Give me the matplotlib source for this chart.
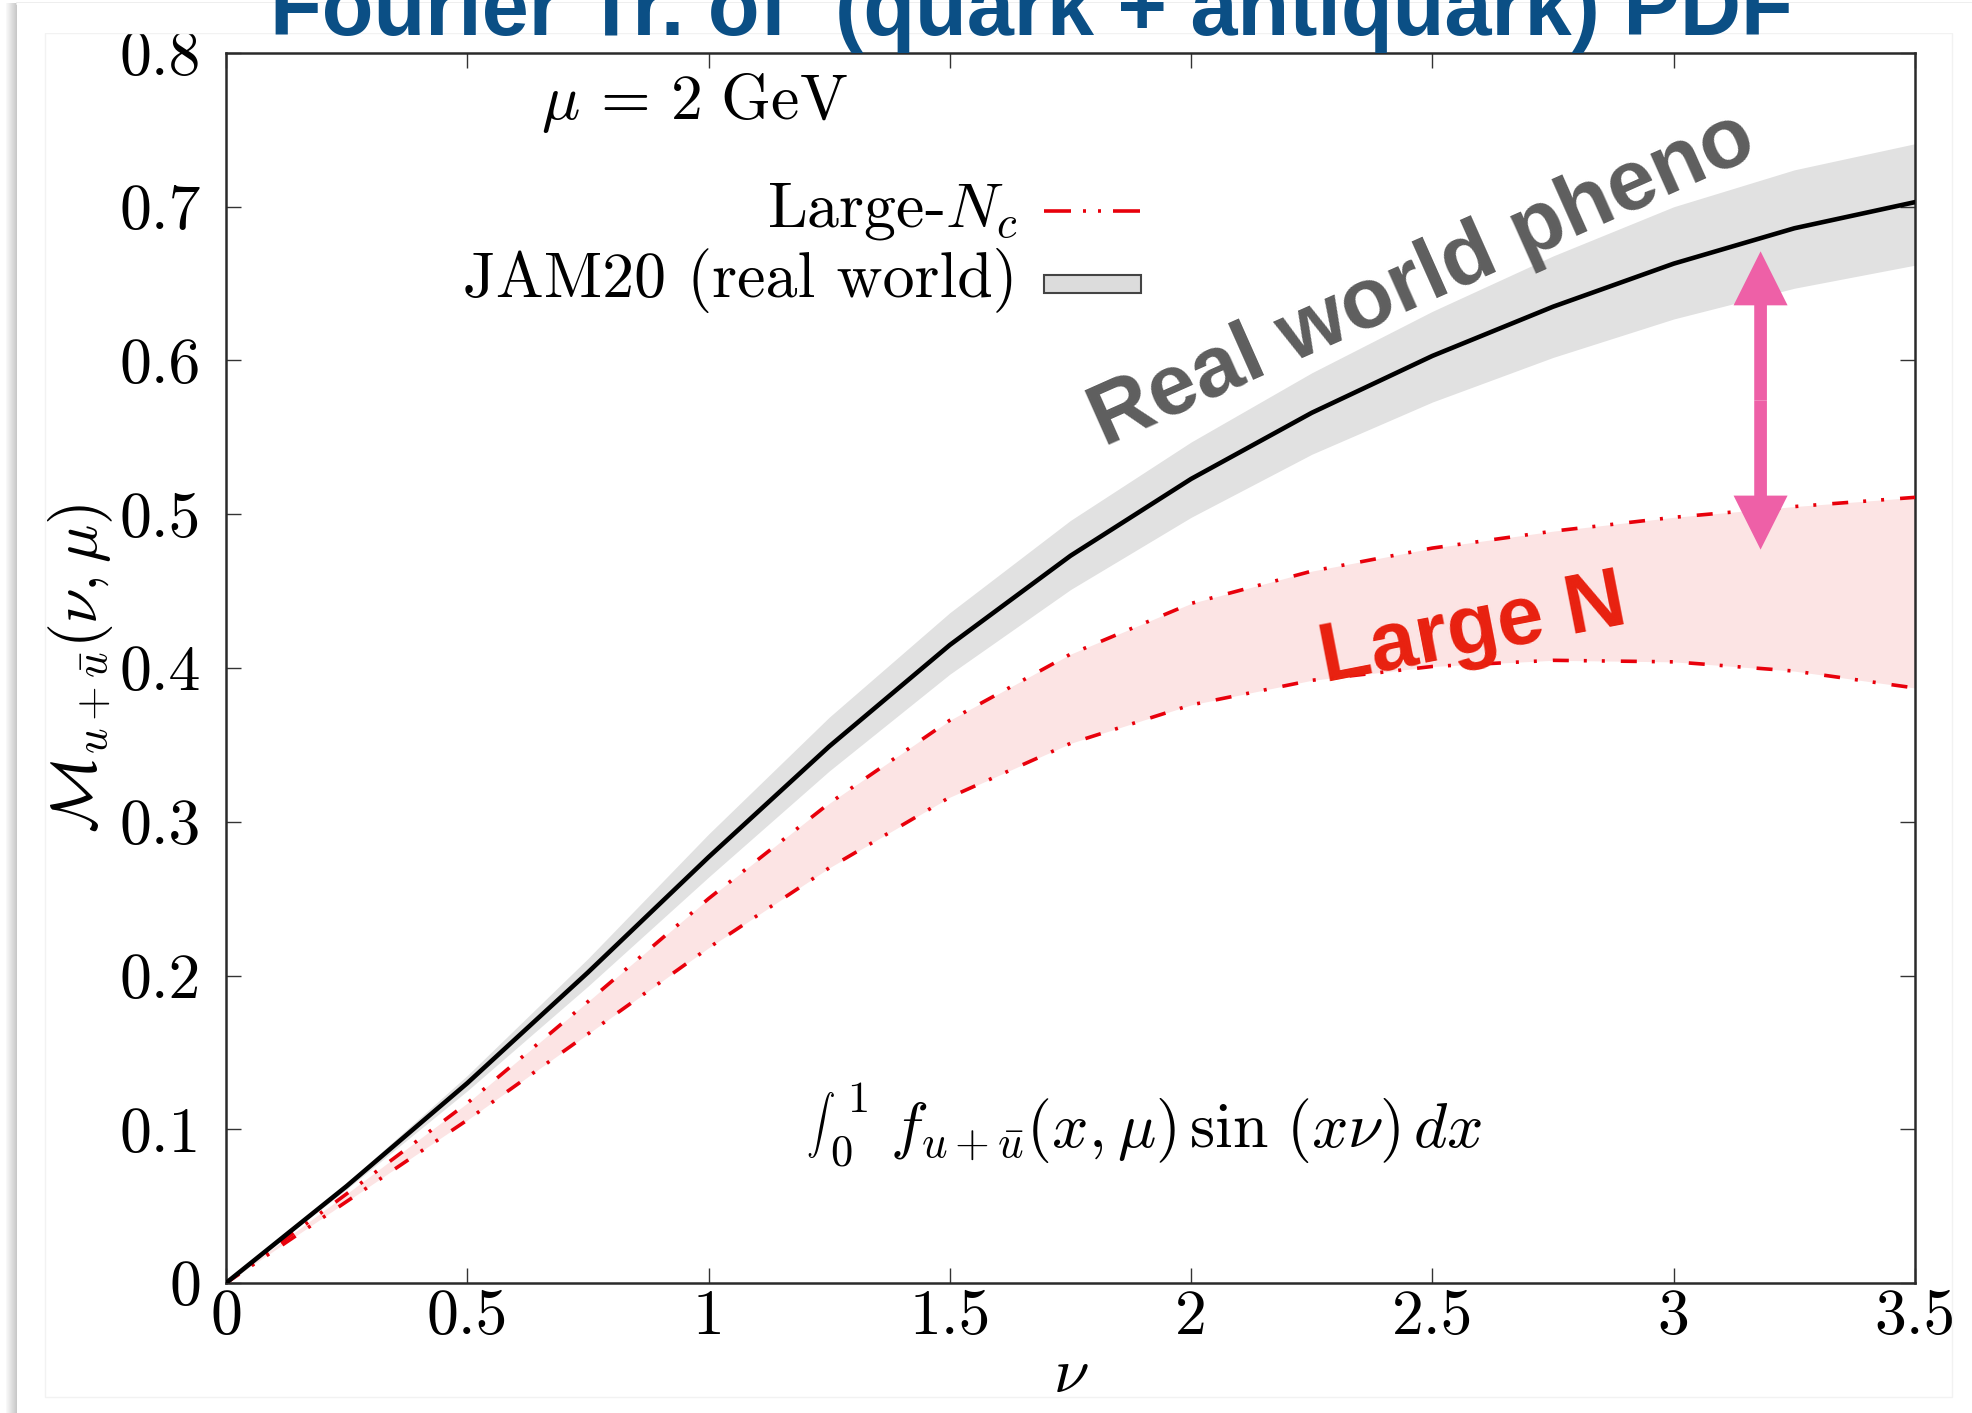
"""Sine Fourier transform of the u + ubar PDF: large-Nc band vs JAM20 fit."""
import matplotlib

matplotlib.use("Agg")
import matplotlib.pyplot as plt
import numpy as np
from matplotlib.lines import Line2D
from matplotlib.patches import FancyArrow, Rectangle

FIG_W, FIG_H, DPI = 19.72, 14.13, 100
PX = 72.0 / DPI  # points per output pixel

plt.rcParams["font.family"] = ["cmr10", "DejaVu Serif"]
plt.rcParams["mathtext.fontset"] = "cm"
plt.rcParams["axes.formatter.use_mathtext"] = True
plt.rcParams["lines.scale_dashes"] = False

# Ioffe time nu and the transformed distributions read at each nu
nu = [0.0, 0.25, 0.5, 0.75, 1.0, 1.25, 1.5, 1.75, 2.0, 2.25, 2.5, 2.75, 3.0, 3.25, 3.5]
jam_central = [0.0, 0.063, 0.130, 0.202, 0.277, 0.349, 0.415, 0.473, 0.523, 0.566,
               0.603, 0.635, 0.663, 0.686, 0.703]
jam_upper = [0.0, 0.065, 0.135, 0.211, 0.292, 0.368, 0.436, 0.496, 0.547, 0.592,
             0.632, 0.668, 0.700, 0.724, 0.741]
jam_lower = [0.0, 0.061, 0.125, 0.193, 0.264, 0.333, 0.396, 0.451, 0.498, 0.539,
             0.573, 0.602, 0.627, 0.647, 0.662]
largenc_upper = [0.0, 0.058, 0.117, 0.183, 0.250, 0.312, 0.366, 0.409, 0.442, 0.463,
                 0.478, 0.489, 0.498, 0.505, 0.511]
largenc_lower = [0.0, 0.053, 0.106, 0.162, 0.218, 0.270, 0.316, 0.351, 0.376, 0.392,
                 0.401, 0.405, 0.404, 0.398, 0.387]

x_ticks = [0, 0.5, 1, 1.5, 2, 2.5, 3, 3.5]
x_ticklabels = ["0", "0.5", "1", "1.5", "2", "2.5", "3", "3.5"]
y_ticks = [0, 0.1, 0.2, 0.3, 0.4, 0.5, 0.6, 0.7, 0.8]
y_ticklabels = ["0", "0.1", "0.2", "0.3", "0.4", "0.5", "0.6", "0.7", "0.8"]

# gap marker between the two bands, at nu = 3.18
arrow_nu = 3.18
arrow_top, arrow_bottom = 0.671, 0.477

RED = "#e8000b"
BAND_RED = "#fce4e4"
BAND_GREY = "#e1e1e1"
PINK = "#ee60a7"
TITLE_BLUE = "#0b4f85"
ANNOT_GREY = "#5e5e5e"
ANNOT_RED = "#e8200f"
SANS = ["Liberation Sans", "DejaVu Sans"]
FS = 46

fig = plt.figure(figsize=(FIG_W, FIG_H), dpi=DPI)
fig.patch.set_facecolor("white")
W, H = FIG_W * DPI, FIG_H * DPI

ax = fig.add_axes([226 / W, 1 - 1283 / H, 1689 / W, 1230 / H])
ax.set_xlim(0, 3.5)
ax.set_ylim(0, 0.8)
x_px = 1689 / 3.5    # pixels per unit nu
y_px = 1230 / 0.8    # pixels per unit M

nu_arr = np.array(nu)
ax.fill_between(nu_arr, jam_lower, jam_upper, color=BAND_GREY, lw=0, zorder=1)
ax.fill_between(nu_arr, largenc_lower, largenc_upper, color=BAND_RED, lw=0, zorder=2)
dash = (16 * PX, 15 * PX, 3 * PX, 15 * PX, 3 * PX, 16 * PX)
for series in (largenc_upper, largenc_lower):
    ax.plot(nu_arr, series, color=RED, lw=2.6, dashes=dash, dash_capstyle="butt",
            solid_joinstyle="round", zorder=3)
ax.plot(nu_arr, jam_central, color="black", lw=3.3, solid_joinstyle="round", zorder=4)

# double-headed arrow built from two single heads pointing away from the middle
mid = 0.5 * (arrow_top + arrow_bottom)
for tip in (arrow_top, arrow_bottom):
    ax.add_patch(FancyArrow(arrow_nu, mid, 0, tip - mid, width=12.7 / x_px,
                            head_width=54 / x_px, head_length=54 / y_px,
                            length_includes_head=True, color=PINK, lw=0, zorder=6))

for side in ax.spines.values():
    side.set_linewidth(1.8)
    side.set_color("#2a2a2a")
ax.tick_params(which="both", direction="in", top=True, right=True, length=15 * PX,
               width=1.0, color="#333333", labelsize=FS)
ax.tick_params(axis="x", pad=4)
ax.tick_params(axis="y", pad=18)
ax.set_xticks(x_ticks)
ax.set_xticklabels(x_ticklabels)
ax.set_yticks(y_ticks)
ax.set_yticklabels(y_ticklabels)

ax.set_xlabel(r"$\nu$", fontsize=FS)
ax.xaxis.set_label_coords(0.5, -0.052)
ax.set_ylabel(r"$\mathcal{M}_{u+\bar{u}}(\nu,\mu)$", fontsize=FS)
ax.yaxis.set_label_coords(-0.066, 0.5)

ax.text(0.1865, 0.9463, r"$\mu\, =\, 2\ \mathrm{GeV}$", transform=ax.transAxes,
        fontsize=FS, ha="left", va="baseline")

# inline integral: small sign with its limits beside it, then the integrand
ax.text(0.3434, 0.100, r"$\int$", transform=ax.transAxes, fontsize=20.5,
        ha="left", va="bottom")
ax.text(0.3680, 0.139, "1", transform=ax.transAxes, fontsize=32, ha="left",
        va="baseline")
ax.text(0.3576, 0.0959, "0", transform=ax.transAxes, fontsize=32, ha="left",
        va="baseline")
ax.text(0.3931, 0.1106, r"$f_{u+\bar{u}}(x,\mu)\,\sin\,(x\nu)\,dx$",
        transform=ax.transAxes, fontsize=FS, ha="left", va="baseline")

# key drawn by hand so the labels sit right-aligned next to their samples
ax.text(0.4689, 0.8593, r"Large-$N_c$", transform=ax.transAxes, fontsize=FS,
        ha="right", va="baseline")
ax.text(0.4689, 0.8016, "JAM20 (real world)", transform=ax.transAxes, fontsize=FS,
        ha="right", va="baseline")
ax.add_line(Line2D([0.4843, 0.5417], [0.8715, 0.8715], transform=ax.transAxes,
                   color=RED, lw=2.6, dashes=(27 * PX, 12 * PX, 3 * PX, 12 * PX, 3 * PX, 12 * PX),
                   dash_capstyle="butt"))
ax.add_patch(Rectangle((0.4843, 0.8122 - 0.0075), 0.0574, 0.015, transform=ax.transAxes,
                       facecolor="#dcdcdc", edgecolor="#444444", lw=1.5))

ax.text(1.819, 0.544, "Real world pheno", fontsize=62, fontweight="bold", family=SANS,
        color=ANNOT_GREY, rotation=24, rotation_mode="anchor", ha="left", va="baseline",
        zorder=7)
ax.text(2.277, 0.391, "Large N", fontsize=60, fontweight="bold", family=SANS,
        color=ANNOT_RED, rotation=11, rotation_mode="anchor", ha="left", va="baseline",
        zorder=7)

# slide frame: shadow strip on the left, faint inset border, white header band
shadow = fig.add_axes([6 / W, 0, 11 / W, 1 - 3 / H])
shadow.imshow(np.linspace(0.98, 0.78, 32)[None, :], cmap="gray", vmin=0, vmax=1,
              aspect="auto", extent=(0, 1, 0, 1))
shadow.set_axis_off()
fig.add_artist(Line2D([17 / W, 1], [1 - 3 / H, 1 - 3 / H], color="#ececec", lw=2))
fig.add_artist(Rectangle((45 / W, 1 - 1397 / H), 1907 / W, 1364 / H, fill=False,
                         edgecolor="#f2f2f2", lw=1, zorder=3))
fig.add_artist(Rectangle((17 / W, 1 - 33 / H), 1 - 17 / W, 30 / H, facecolor="white",
                         edgecolor="none", zorder=5))

fig.text(270 / W, 1 - 35 / H, "Fourier Tr. of  (quark + antiquark) PDF", fontsize=61,
         fontweight="bold", family=SANS, color=TITLE_BLUE, ha="left", va="baseline",
         zorder=6)

fig.savefig("out.png", dpi=DPI)
